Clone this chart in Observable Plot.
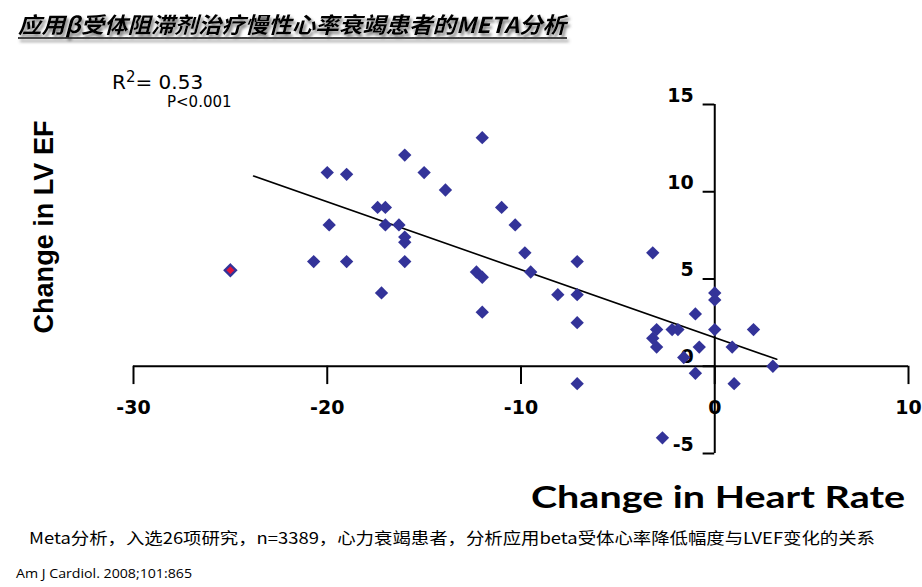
<!DOCTYPE html>
<html>
<head>
<meta charset="utf-8">
<script src="https://cdn.jsdelivr.net/npm/d3@7"></script>
<script src="https://cdn.jsdelivr.net/npm/@observablehq/plot@0.6"></script>
<style>
  html, body { margin: 0; padding: 0; background: #fff; }
  #wrap { position: relative; width: 922px; height: 587px; overflow: hidden; background: #fff; }
  #wrap > svg { position: absolute; left: 0; top: 0; }
</style>
</head>
<body>
<div id="wrap"></div>
<script>
// ---- Data ----
const hrChange = [-20.7, -20, -19.9, -19, -19, -17.4, -17.0, -17.0, -17.2, -16.3, -16, -16, -16, -16,
  -15, -13.9, -12, -12.3, -12.0, -12, -11.0, -10.3, -9.8, -9.5, -8.1, -7.1, -7.1, -7.1, -7.1,
  -3.2, -3.0, -3.2, -3.0, -2.7, -2.2, -1.9, -1.6, -1.0, -0.8, -1.0, 0, 0, 0, 0.9, 1.0, 2.0, 3.0];
const efChange = [6.0, 11.1, 8.1, 11.0, 6.0, 9.1, 9.1, 8.1, 4.2, 8.1, 12.1, 7.4, 7.1, 6.0,
  11.1, 10.1, 13.1, 5.4, 5.1, 3.1, 9.1, 8.1, 6.5, 5.4, 4.1, 6.0, 4.1, 2.5, -1.0,
  6.5, 2.1, 1.6, 1.1, -4.1, 2.1, 2.1, 0.5, 3.0, 1.1, -0.4, 4.2, 3.8, 2.1, 1.1, -1.0, 2.1, 0.0];
const highlightHr = [-25];
const highlightEf = [5.5];
const fitHr = [-23.8, 3.2];
const fitEf = [10.9, 0.4];
const xTicks = [-30, -20, -10, 0, 10];
const yTicks = [-5, 0, 5, 10, 15];

const title = "应用β受体阻滞剂治疗慢性心率衰竭患者的META分析";
const r2Text = "0.53";
const pText = "P<0.001";
const yTitle = "Change in LV EF";
const xTitle = "Change in Heart Rate";
const noteText = "Meta分析，入选26项研究，n=3389，心力衰竭患者，分析应用beta受体心率降低幅度与LVEF变化的关系";
const sourceText = "Am J Cardiol. 2008;101:865";

// ---- Build table ----
const points = hrChange.map((x, i) => ({x, y: efChange[i]}));
const highlight = highlightHr.map((x, i) => ({x, y: highlightEf[i]}));
const fit = fitHr.map((x, i) => ({x, y: fitEf[i]}));

const tickFont = {fontSize: 19, fontWeight: "bold", fill: "#000", fontFamily: "DejaVu Sans"};

const chart = Plot.plot({
  width: 922,
  height: 587,
  marginLeft: 133,
  marginRight: 14,
  marginTop: 104,
  marginBottom: 134,
  x: {domain: [-30, 10], axis: null},
  y: {domain: [-5, 15], axis: null},
  style: {background: "transparent", fontFamily: "DejaVu Sans, sans-serif", overflow: "visible"},
  marks: [
    Plot.ruleY([0], {stroke: "#000", strokeWidth: 2}),
    Plot.ruleX([0], {stroke: "#000", strokeWidth: 2}),
    Plot.ruleX(xTicks, {x: d => d, y1: 0, y2: -1.05, stroke: "#000", strokeWidth: 2}),
    Plot.ruleY(yTicks, {y: d => d, x1: 0, x2: -0.6, stroke: "#000", strokeWidth: 2}),
    Plot.text(xTicks, {x: d => d, y: 0, dy: 42, text: d => String(d), ...tickFont}),
    Plot.text(yTicks, {x: 0, y: d => d, dx: -21, dy: -9, textAnchor: "end", text: d => String(d), ...tickFont}),
    Plot.line(fit, {x: "x", y: "y", stroke: "#000", strokeWidth: 1.6}),
    Plot.dot(points, {x: "x", y: "y", symbol: "diamond2", r: 6, fill: "#333399", stroke: "none"}),
    Plot.dot(highlight, {x: "x", y: "y", symbol: "diamond2", r: 5, fill: "#e0143c", stroke: "#333399", strokeWidth: 2.4})
  ]
});
document.getElementById("wrap").appendChild(chart);

// ---- Overlay texts ----
const ov = d3.select("#wrap").append("svg")
  .attr("width", 922).attr("height", 587)
  .style("pointer-events", "none");

const defs = ov.append("defs");
defs.append("filter").attr("id", "shadow").attr("x", "-5%").attr("y", "-30%").attr("width", "110%").attr("height", "180%")
  .append("feDropShadow").attr("dx", 2).attr("dy", 3).attr("stdDeviation", 1.6).attr("flood-color", "#666").attr("flood-opacity", 0.85);

const tg = ov.append("g").attr("filter", "url(#shadow)");
tg.append("text")
  .attr("x", 18).attr("y", 33)
  .attr("textLength", 548).attr("lengthAdjust", "spacingAndGlyphs")
  .style("font-family", "'Noto Sans CJK SC', sans-serif")
  .style("font-weight", "bold").style("font-style", "italic")
  .style("font-size", "22px").attr("fill", "#000")
  .text(title);
tg.append("line").attr("x1", 18).attr("x2", 567).attr("y1", 38).attr("y2", 38)
  .attr("stroke", "#000").attr("stroke-width", 1.5);

const r2 = ov.append("text").attr("x", 112).attr("y", 89)
  .style("font-family", "'DejaVu Sans', sans-serif").style("font-size", "20px").attr("fill", "#000");
r2.append("tspan").text("R");
r2.append("tspan").attr("dy", -7).style("font-size", "15px").text("2");
r2.append("tspan").attr("dy", 7).text("= " + r2Text);

ov.append("text").attr("x", 167).attr("y", 107)
  .style("font-family", "'DejaVu Sans', sans-serif").style("font-size", "15px").attr("fill", "#000")
  .text(pText);

ov.append("text")
  .attr("transform", "translate(53,227) rotate(-90)")
  .attr("text-anchor", "middle")
  .attr("textLength", 213).attr("lengthAdjust", "spacingAndGlyphs")
  .style("font-family", "'Liberation Sans', Arial, sans-serif").style("font-weight", "bold").style("font-size", "28px")
  .attr("fill", "#000")
  .text(yTitle);

ov.append("text").attr("x", 531).attr("y", 508)
  .attr("textLength", 374).attr("lengthAdjust", "spacingAndGlyphs")
  .style("font-family", "Lato, sans-serif").style("font-weight", "bold").style("font-size", "30px")
  .attr("fill", "#000")
  .text(xTitle);

ov.append("text").attr("x", 29).attr("y", 544)
  .attr("textLength", 846).attr("lengthAdjust", "spacingAndGlyphs")
  .style("font-family", "'Noto Sans CJK SC', sans-serif").style("font-size", "16px")
  .attr("fill", "#000")
  .text(noteText);

ov.append("text").attr("x", 16).attr("y", 578)
  .attr("textLength", 176).attr("lengthAdjust", "spacingAndGlyphs")
  .style("font-family", "'Open Sans', sans-serif").style("font-size", "13px")
  .attr("fill", "#000")
  .text(sourceText);
</script>
</body>
</html>
